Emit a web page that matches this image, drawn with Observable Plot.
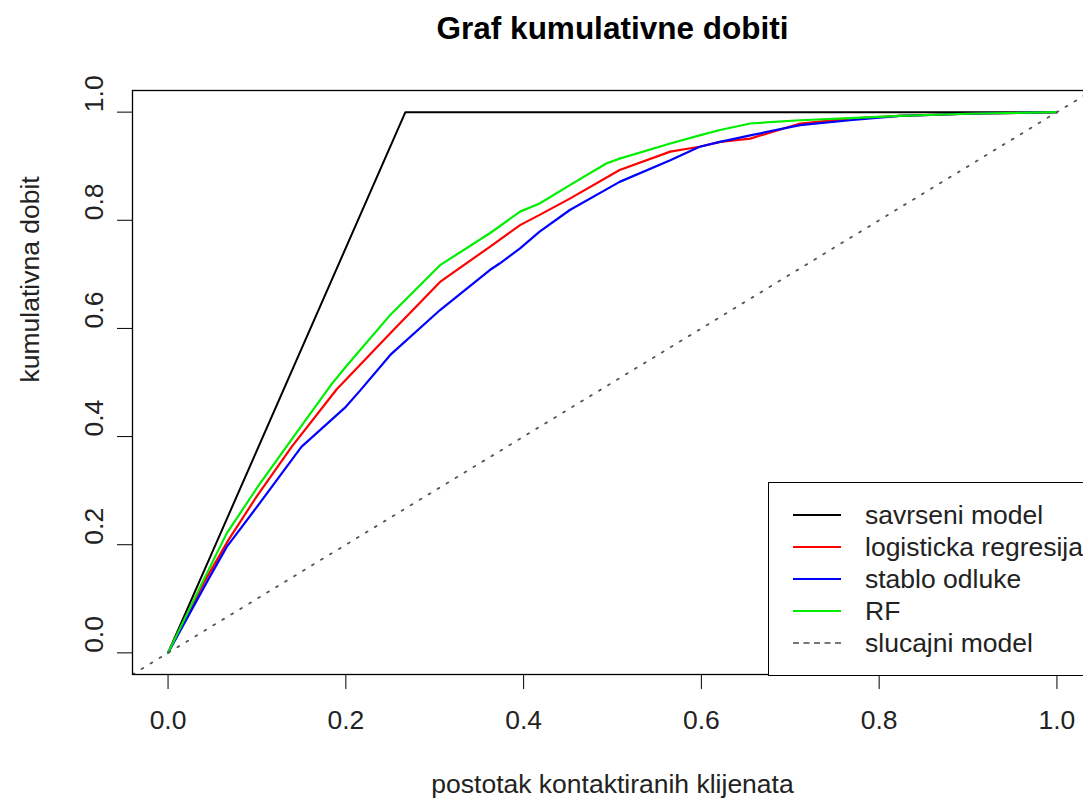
<!DOCTYPE html>
<html>
<head>
<meta charset="utf-8">
<script src="https://cdn.jsdelivr.net/npm/d3@7"></script>
<script src="https://cdn.jsdelivr.net/npm/@observablehq/plot@0.6"></script>
<style>
  html, body { margin: 0; padding: 0; background: #fff; overflow: hidden; }
  #wrap { position: relative; width: 1083px; height: 801px; overflow: hidden; font-family: "Liberation Sans", Arial, sans-serif; }
  #chart svg { max-width: none !important; width: 1093px !important; height: 801px !important; }
  #title { position: absolute; left: 0; width: 1225px; top: 12px; text-align: center; font-weight: bold; font-size: 31.5px; line-height: 32px; color: #000; }
  #legend { position: absolute; left: 768px; top: 482px; width: 400px; height: 192px; border: 1px solid #000; background: #fff; }
  .row { position: absolute; left: 0; height: 32px; width: 400px; }
  .swatch { position: absolute; left: 24px; width: 48px; top: 15px; height: 0; border-top: 2.5px solid; }
  .lab { position: absolute; left: 96px; top: 0; font-size: 26.5px; line-height: 32px; color: #222; white-space: nowrap; }
</style>
</head>
<body>
<div id="wrap">
  <div id="chart"></div>
  <div id="title"></div>
  <div id="legend"></div>
</div>
<script>
// ---- data ----
const titleText = "Graf kumulativne dobiti";
const xLabel = "postotak kontaktiranih klijenata";
const yLabel = "kumulativna dobit";
const xTicks = [0, 0.2, 0.4, 0.6, 0.8, 1.0];
const yTicks = [0, 0.2, 0.4, 0.6, 0.8, 1.0];

const seriesNames = ["savrseni model", "logisticka regresija", "stablo odluke", "RF", "slucajni model"];
const seriesColors = ["#000000", "#ff0000", "#0000ff", "#00ee00", "#777777"];

const perfectX = [0, 0.267, 1];
const perfectY = [0, 1, 1];

const lrX = [0, 0.042, 0.068, 0.1, 0.139, 0.19, 0.2, 0.25, 0.306, 0.362, 0.396, 0.418, 0.452, 0.508, 0.565, 0.598, 0.621, 0.655, 0.711, 0.767, 0.823, 0.9, 1];
const lrY = [0, 0.135, 0.209, 0.29, 0.381, 0.488, 0.505, 0.591, 0.686, 0.751, 0.791, 0.810, 0.840, 0.893, 0.927, 0.936, 0.945, 0.951, 0.979, 0.988, 0.993, 0.997, 1];

const dtX = [0, 0.045, 0.066, 0.1, 0.15, 0.2, 0.216, 0.25, 0.306, 0.362, 0.373, 0.396, 0.418, 0.452, 0.508, 0.565, 0.598, 0.621, 0.655, 0.711, 0.767, 0.823, 0.9, 1];
const dtY = [0, 0.135, 0.196, 0.27, 0.381, 0.455, 0.485, 0.551, 0.634, 0.708, 0.72, 0.748, 0.779, 0.819, 0.871, 0.911, 0.936, 0.945, 0.957, 0.976, 0.985, 0.993, 0.997, 1];

const rfX = [0, 0.04, 0.066, 0.1, 0.133, 0.184, 0.2, 0.25, 0.306, 0.362, 0.396, 0.418, 0.452, 0.493, 0.508, 0.565, 0.598, 0.621, 0.655, 0.711, 0.767, 0.823, 0.9, 1];
const rfY = [0, 0.135, 0.221, 0.305, 0.381, 0.497, 0.529, 0.625, 0.717, 0.776, 0.816, 0.831, 0.865, 0.905, 0.914, 0.942, 0.957, 0.967, 0.979, 0.985, 0.989, 0.993, 0.997, 1];

const randomX = [-0.05, 1.05];
const randomY = [-0.05, 1.05];

// ---- build ----
const pts = (xs, ys) => xs.map((x, i) => ({x, y: ys[i]}));
const fmt = d3.format(".1f");
const font = "'Liberation Sans', Arial, sans-serif";

const chart = Plot.plot({
  width: 1093,
  height: 801,
  marginLeft: 132,
  marginRight: 1,
  marginTop: 90,
  marginBottom: 127,
  style: {fontFamily: font, fontSize: "26.5px", color: "#000", background: "#fff", maxWidth: "none"},
  x: {domain: [-0.04, 1.04], axis: null},
  y: {domain: [-0.04, 1.04], axis: null},
  marks: [
    Plot.line(pts(perfectX, perfectY), {x: "x", y: "y", stroke: seriesColors[0], strokeWidth: 2}),
    Plot.line(pts(lrX, lrY), {x: "x", y: "y", stroke: seriesColors[1], strokeWidth: 2.2}),
    Plot.line(pts(dtX, dtY), {x: "x", y: "y", stroke: seriesColors[2], strokeWidth: 2.2}),
    Plot.line(pts(rfX, rfY), {x: "x", y: "y", stroke: seriesColors[3], strokeWidth: 2.2}),
    Plot.line(pts(randomX, randomY), {x: "x", y: "y", stroke: "#555", strokeWidth: 1.8, strokeDasharray: "2,8.5", clip: true}),
    Plot.frame({stroke: "#000", strokeWidth: 1.3}),
    Plot.axisX({ticks: xTicks, tickSize: 15, tickFormat: () => "", label: null, stroke: "#000"}),
    Plot.axisY({ticks: yTicks, tickSize: 15, tickFormat: () => "", label: null, stroke: "#000"}),
    Plot.text(xTicks, {x: d => d, frameAnchor: "bottom", dy: 46, text: d => fmt(d), lineAnchor: "middle", fill: "#222"}),
    Plot.text(yTicks, {y: d => d, frameAnchor: "left", dx: -38, text: d => fmt(d), rotate: -90, lineAnchor: "middle", fill: "#222"}),
    Plot.text([xLabel], {frameAnchor: "bottom", dy: 110, text: d => d, lineAnchor: "middle", fill: "#222"}),
    Plot.text([yLabel], {frameAnchor: "left", dx: -102, text: d => d, rotate: -90, lineAnchor: "middle", fill: "#222"})
  ]
});
document.getElementById("chart").appendChild(chart);

document.getElementById("title").textContent = titleText;

const legend = document.getElementById("legend");
const rowTops = [16, 48, 80, 112, 144];
seriesNames.forEach((name, i) => {
  const row = document.createElement("div");
  row.className = "row";
  row.style.top = rowTops[i] + "px";
  const sw = document.createElement("div");
  sw.className = "swatch";
  sw.style.borderTopColor = seriesColors[i];
  if (i === 4) { sw.style.borderTopStyle = "dashed"; sw.style.borderTopWidth = "2px"; }
  const lab = document.createElement("div");
  lab.className = "lab";
  lab.textContent = name;
  row.appendChild(sw);
  row.appendChild(lab);
  legend.appendChild(row);
});
</script>
</body>
</html>
